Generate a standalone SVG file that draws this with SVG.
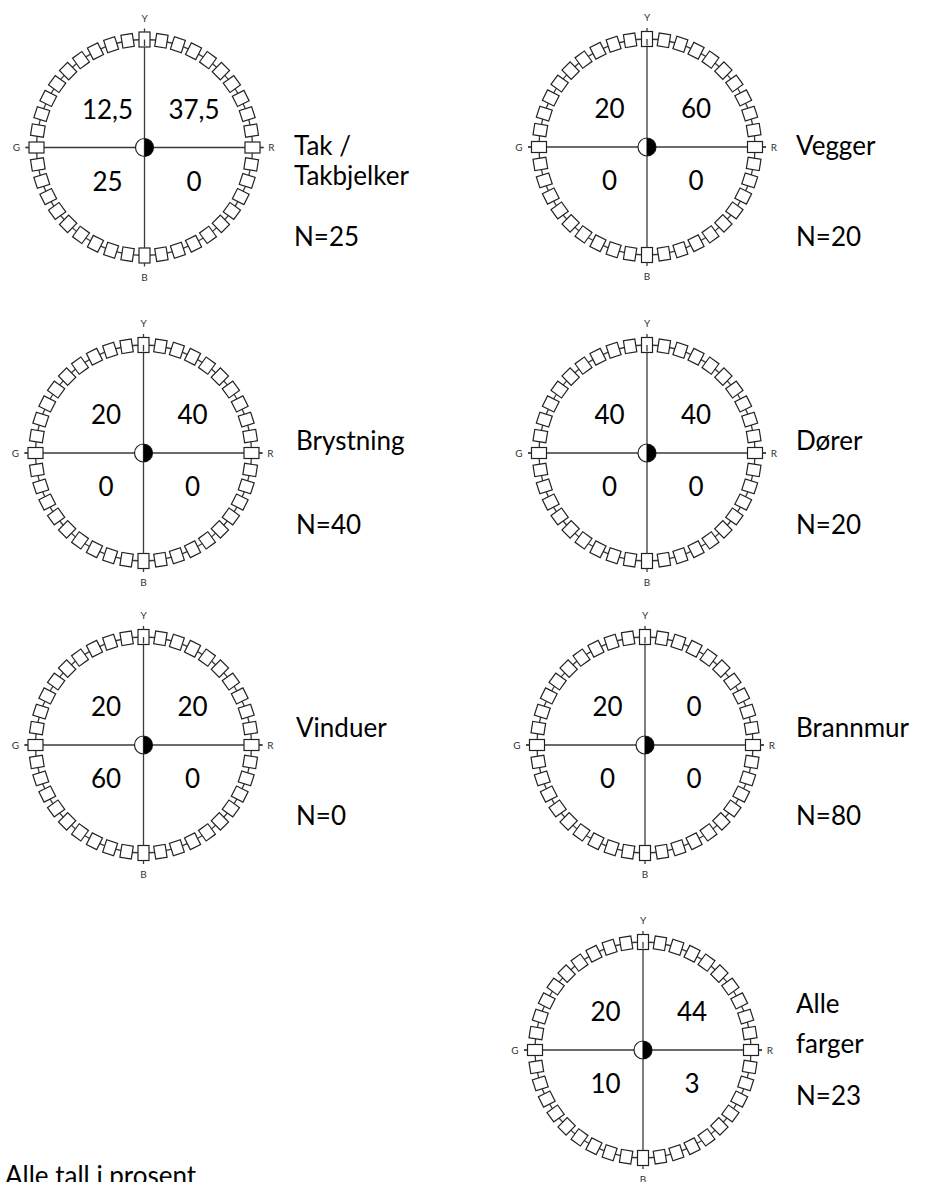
<svg xmlns="http://www.w3.org/2000/svg" xmlns:xlink="http://www.w3.org/1999/xlink" width="928" height="1182" viewBox="0 0 928 1182">
<style>
.ln{stroke:#3a3a3a;stroke-width:1.3;fill:none}
.bx{fill:#fff;stroke:#222;stroke-width:1.2}
.ax{font-family:Lato,"Liberation Sans",sans-serif;font-size:10px;fill:#333;text-anchor:middle}
.num{font-family:Lato,"Liberation Sans",sans-serif;font-size:26px;fill:#000;text-anchor:middle}
.lbl{font-family:Lato,"Liberation Sans",sans-serif;font-size:26px;fill:#000}
</style>
<defs>
<rect id="b" class="bx" x="-5.75" y="-114.5" width="11.5" height="13"/>
<rect id="bc" class="bx" x="-5.5" y="-115.5" width="11" height="15"/>
<g id="wheel">
<line class="ln" x1="-119" y1="0" x2="119" y2="0"/>
<circle class="ln" r="108"/>
<use href="#bc"/><use href="#b" transform="rotate(9)"/><use href="#b" transform="rotate(18)"/><use href="#b" transform="rotate(27)"/><use href="#b" transform="rotate(36)"/><use href="#b" transform="rotate(45)"/><use href="#b" transform="rotate(54)"/><use href="#b" transform="rotate(63)"/><use href="#b" transform="rotate(72)"/><use href="#b" transform="rotate(81)"/>
<use href="#bc" transform="rotate(90)"/><use href="#b" transform="rotate(99)"/><use href="#b" transform="rotate(108)"/><use href="#b" transform="rotate(117)"/><use href="#b" transform="rotate(126)"/><use href="#b" transform="rotate(135)"/><use href="#b" transform="rotate(144)"/><use href="#b" transform="rotate(153)"/><use href="#b" transform="rotate(162)"/><use href="#b" transform="rotate(171)"/>
<use href="#bc" transform="rotate(180)"/><use href="#b" transform="rotate(189)"/><use href="#b" transform="rotate(198)"/><use href="#b" transform="rotate(207)"/><use href="#b" transform="rotate(216)"/><use href="#b" transform="rotate(225)"/><use href="#b" transform="rotate(234)"/><use href="#b" transform="rotate(243)"/><use href="#b" transform="rotate(252)"/><use href="#b" transform="rotate(261)"/>
<use href="#bc" transform="rotate(270)"/><use href="#b" transform="rotate(279)"/><use href="#b" transform="rotate(288)"/><use href="#b" transform="rotate(297)"/><use href="#b" transform="rotate(306)"/><use href="#b" transform="rotate(315)"/><use href="#b" transform="rotate(324)"/><use href="#b" transform="rotate(333)"/><use href="#b" transform="rotate(342)"/><use href="#b" transform="rotate(351)"/>
<line class="ln" x1="0" y1="-108" x2="0" y2="-101.5"/>
<line class="ln" x1="0" y1="-119" x2="0" y2="-115.5"/>
<line class="ln" x1="0" y1="115.5" x2="0" y2="119"/>
<line class="ln" x1="-119" y1="0" x2="-115.5" y2="0"/>
<line class="ln" x1="115.5" y1="0" x2="119" y2="0"/>
<circle r="9" fill="#fff" stroke="#222" stroke-width="1.2"/>
<line class="ln" x1="0" y1="-100.5" x2="0" y2="100.5"/>
<path d="M0,-9 A9,9 0 0 1 0,9 Z" fill="#000"/>
<text class="ax" x="0" y="-126">Y</text>
<text class="ax" x="0" y="133">B</text>
<text class="ax" x="-128" y="3.5">G</text>
<text class="ax" x="127" y="3.5">R</text>
</g>
</defs>
<g id="tak">
<use href="#wheel" transform="translate(144.5,147.5)"/>
<text class="num" x="107.5" y="118.5">12,5</text><text class="num" x="194" y="118.5">37,5</text>
<text class="num" x="107.5" y="190.5">25</text><text class="num" x="194" y="190.5">0</text>
<text class="lbl" x="294" y="155">Tak /</text><text class="lbl" x="294" y="185">Takbjelker</text><text class="lbl" x="294" y="246">N=25</text>
</g>
<g id="vegger">
<use href="#wheel" transform="translate(647,147)"/>
<text class="num" x="609.5" y="118">20</text><text class="num" x="696" y="118">60</text>
<text class="num" x="609.5" y="190">0</text><text class="num" x="696" y="190">0</text>
<text class="lbl" x="796" y="155">Vegger</text><text class="lbl" x="796" y="246">N=20</text>
</g>
<g id="brystning">
<use href="#wheel" transform="translate(143.5,453)"/>
<text class="num" x="106" y="424">20</text><text class="num" x="192.5" y="424">40</text>
<text class="num" x="106" y="496">0</text><text class="num" x="192.5" y="496">0</text>
<text class="lbl" x="296" y="450">Brystning</text><text class="lbl" x="296" y="534">N=40</text>
</g>
<g id="dorer">
<use href="#wheel" transform="translate(647,453)"/>
<text class="num" x="609.5" y="424">40</text><text class="num" x="696" y="424">40</text>
<text class="num" x="609.5" y="496">0</text><text class="num" x="696" y="496">0</text>
<text class="lbl" x="796" y="450">Dører</text><text class="lbl" x="796" y="534">N=20</text>
</g>
<g id="vinduer">
<use href="#wheel" transform="translate(143.5,745)"/>
<text class="num" x="106" y="716">20</text><text class="num" x="192.5" y="716">20</text>
<text class="num" x="106" y="788">60</text><text class="num" x="192.5" y="788">0</text>
<text class="lbl" x="296" y="737">Vinduer</text><text class="lbl" x="296" y="825">N=0</text>
</g>
<g id="brannmur">
<use href="#wheel" transform="translate(645,745)"/>
<text class="num" x="607.5" y="716">20</text><text class="num" x="694" y="716">0</text>
<text class="num" x="607.5" y="788">0</text><text class="num" x="694" y="788">0</text>
<text class="lbl" x="796" y="737">Brannmur</text><text class="lbl" x="796" y="825">N=80</text>
</g>
<g id="alle">
<use href="#wheel" transform="translate(643,1050)"/>
<text class="num" x="605.5" y="1021">20</text><text class="num" x="692" y="1021">44</text>
<text class="num" x="605.5" y="1093">10</text><text class="num" x="692" y="1093">3</text>
<text class="lbl" x="796" y="1013">Alle</text><text class="lbl" x="796" y="1053">farger</text><text class="lbl" x="796" y="1105">N=23</text>
</g>
<text class="lbl" x="5" y="1185">Alle tall i prosent</text>
</svg>
